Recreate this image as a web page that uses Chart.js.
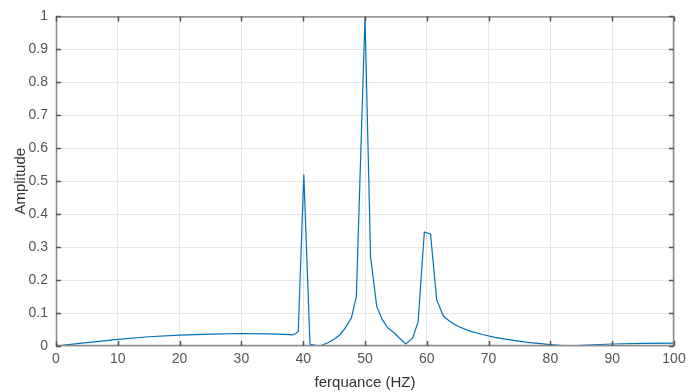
<!DOCTYPE html>
<html>
<head>
<meta charset="utf-8">
<script src="https://cdn.jsdelivr.net/npm/chart.js@4.4.1/dist/chart.umd.min.js"></script>
<style>
  html, body { margin: 0; padding: 0; background: #fff; }
  #wrap { width: 694px; height: 392px; }
</style>
</head>
<body>
<div id="wrap"><canvas id="specChart" width="694" height="392"></canvas></div>
<script>
// Frequency axis (Hz) and amplitude values
var freq = [0, 2, 5, 10, 15, 20, 25, 30, 34, 37, 38.3, 38.8, 39.2, 40.1, 41.1, 42.7, 44, 45.1, 46, 46.8,
            47.8, 48.6, 50.0, 50.9, 51.9, 52.8, 53.7, 54.7, 55.7, 56.6, 57.7, 58.6, 59.6, 60.6, 61.6, 62.7,
            63.7, 65, 67, 69, 71, 73, 76, 80, 83, 86, 90, 95, 100];
var amplitude = [0, 0.004, 0.01, 0.02, 0.028, 0.033, 0.036, 0.038, 0.037, 0.035, 0.034, 0.038, 0.045, 0.52, 0.005, 0, 0.01, 0.022, 0.035, 0.055,
                 0.085, 0.15, 1.0, 0.27, 0.12, 0.08, 0.055, 0.04, 0.022, 0.006, 0.024, 0.074, 0.346, 0.34, 0.14, 0.09,
                 0.075, 0.06, 0.045, 0.035, 0.026, 0.02, 0.012, 0.004, 0.0, 0.003, 0.006, 0.008, 0.009];
var xTicks = [0, 10, 20, 30, 40, 50, 60, 70, 80, 90, 100];
var yTicks = [0, 0.1, 0.2, 0.3, 0.4, 0.5, 0.6, 0.7, 0.8, 0.9, 1];

var points = freq.map(function (f, i) {
    return { x: f, y: amplitude[i] };
});

// MATLAB-like box with inward ticks
var boxPlugin = {
    id: "boxTicks",
    afterDraw: function (chart) {
        var ctx = chart.ctx;
        var a = chart.chartArea;
        var xs = chart.scales.x, ys = chart.scales.y;
        ctx.save();
        ctx.strokeStyle = "#8a8a8a";
        ctx.lineWidth = 1.5;
        ctx.strokeRect(a.left + 0.5, a.top + 0.5, a.right - a.left - 1, a.bottom - a.top - 1);
        ctx.lineWidth = 1.5;
        ctx.strokeStyle = "#555";
        ctx.beginPath();
        xTicks.forEach(function (v) {
            var px = Math.round(xs.getPixelForValue(v)) + 0.5;
            ctx.moveTo(px, a.bottom); ctx.lineTo(px, a.bottom - 5);
            ctx.moveTo(px, a.top); ctx.lineTo(px, a.top + 5);
        });
        yTicks.forEach(function (v) {
            var py = Math.round(ys.getPixelForValue(v)) + 0.5;
            ctx.moveTo(a.left, py); ctx.lineTo(a.left + 5, py);
            ctx.moveTo(a.right, py); ctx.lineTo(a.right - 5, py);
        });
        ctx.stroke();
        ctx.restore();
    }
};

var ctx = document.getElementById("specChart").getContext("2d");
var myChart = new Chart(ctx, {
    type: "line",
    data: {
        datasets: [{
            data: points,
            borderColor: "#0072BD",
            borderWidth: 1.2,
            pointRadius: 0,
            tension: 0,
            fill: false
        }]
    },
    options: {
        responsive: false,
        animation: false,
        layout: { padding: { left: 12, right: 20, top: 16, bottom: 0 } },
        plugins: { legend: { display: false }, tooltip: { enabled: false } },
        scales: {
            x: {
                type: "linear",
                min: 0,
                max: 100,
                afterBuildTicks: function (s) { s.ticks = xTicks.map(function (v) { return { value: v }; }); },
                afterFit: function (s) { s.height = 46; },
                grid: { color: "#e6e6e6", drawTicks: false },
                border: { display: false },
                ticks: { color: "#555", padding: 5, font: { family: "Liberation Sans", size: 14 } },
                title: { display: true, text: "ferquance (HZ)", color: "#333", padding: { top: 0, bottom: 0 },
                         font: { family: "Liberation Sans", size: 15 } }
            },
            y: {
                min: 0,
                max: 1,
                afterBuildTicks: function (s) { s.ticks = yTicks.map(function (v) { return { value: v }; }); },
                afterFit: function (s) { s.width = 44; },
                grid: { color: "#e6e6e6", drawTicks: false },
                border: { display: false },
                ticks: {
                    color: "#555", padding: 8, font: { family: "Liberation Sans", size: 14 },
                    callback: function (v) { return String(Math.round(v * 10) / 10); }
                },
                title: { display: true, text: "Amplitude", color: "#333", padding: { top: 0, bottom: 0 },
                         font: { family: "Liberation Sans", size: 15 } }
            }
        }
    },
    plugins: [boxPlugin]
});
</script>
</body>
</html>
